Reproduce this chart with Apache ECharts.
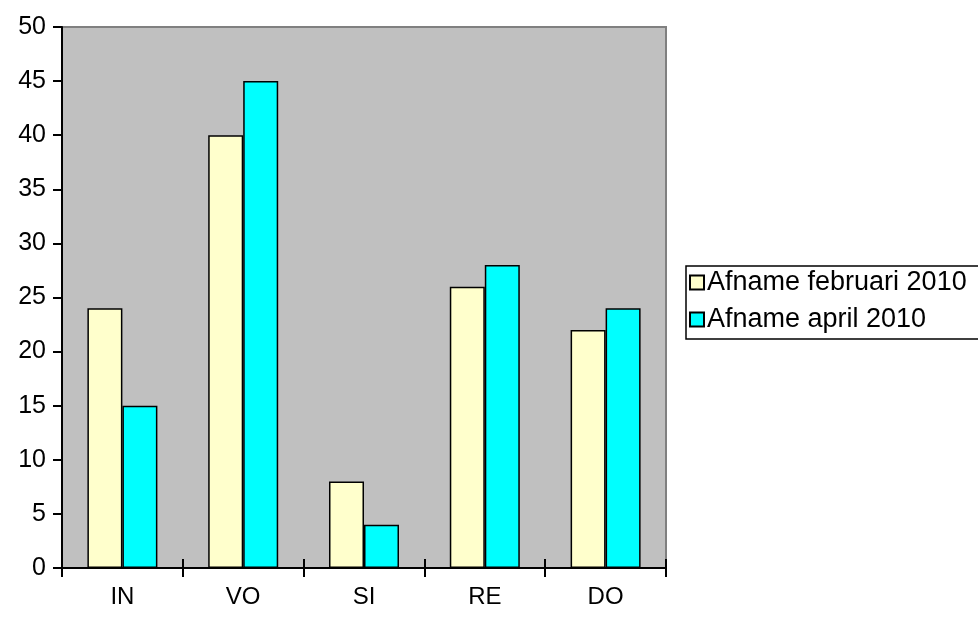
<!DOCTYPE html>
<html><head><meta charset="utf-8">
<script src="https://cdn.jsdelivr.net/npm/echarts@6/dist/echarts.min.js"></script>
<style>html,body{margin:0;padding:0;background:#fff}#c{width:978px;height:617px}</style>
</head><body><div id="c"></div>
<script>
const categories = ['IN', 'VO', 'SI', 'RE', 'DO'];
const febValues = [24, 40, 8, 26, 22];
const aprValues = [15, 45, 4, 28, 24];
const seriesNames = ['Afname februari 2010', 'Afname april 2010'];

const chart = echarts.init(document.getElementById('c'));
const font = 'Liberation Sans, Arial, sans-serif';
chart.setOption({
  animation: false,
  grid: { left: 62, top: 27, width: 604, height: 541, show: true, backgroundColor: '#C0C0C0', borderColor: '#808080', borderWidth: 2 },
  legend: {
    orient: 'vertical', left: 686, top: 266,
    data: seriesNames,
    itemWidth: 14, itemHeight: 14, itemGap: 10,
    icon: 'rect',
    borderColor: '#000', borderWidth: 1.5,
    padding: [3, 60, 6, 3],
    textStyle: { fontFamily: font, fontSize: 27, color: '#000', padding: [0, 0, 0, -2] }
  },
  xAxis: [{
    type: 'category', data: categories,
    axisLine: { lineStyle: { color: '#000', width: 2 } },
    axisTick: { show: true, length: 9, lineStyle: { color: '#000', width: 2 } },
    axisLabel: { fontFamily: font, fontSize: 24, color: '#000', margin: 17 },
    splitLine: { show: false }
  }, {
    type: 'category', data: categories, position: 'bottom', gridIndex: 0,
    axisLine: { show: false },
    axisTick: { show: true, inside: true, length: 9, lineStyle: { color: '#000', width: 2 } },
    axisLabel: { show: false }
  }],
  yAxis: {
    type: 'value', min: 0, max: 50, interval: 5,
    axisLine: { show: true, lineStyle: { color: '#000', width: 2 } },
    axisTick: { show: true, length: 9, lineStyle: { color: '#000', width: 2 } },
    axisLabel: { fontFamily: font, fontSize: 25, color: '#000', margin: 16 },
    splitLine: { show: false }
  },
  series: [{
    name: seriesNames[0], type: 'bar', data: febValues,
    barWidth: 35, barGap: '0%',
    itemStyle: { color: '#FFFFCC', borderColor: '#000', borderWidth: 1.5 }
  }, {
    name: seriesNames[1], type: 'bar', data: aprValues,
    barWidth: 35, barGap: '0%',
    itemStyle: { color: '#00FFFF', borderColor: '#000', borderWidth: 1.5 }
  }]
});
</script></body></html>
